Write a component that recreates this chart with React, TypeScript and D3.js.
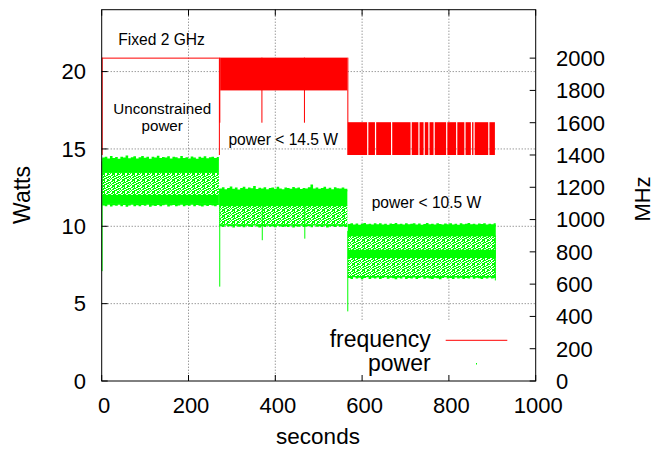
import React from "react";
import * as d3 from "d3";

// Axis ticks
const secondTicks = [0, 200, 400, 600, 800, 1000];
const wattTicks = [0, 5, 10, 15, 20];
const mhzTicks = [0, 200, 400, 600, 800, 1000, 1200, 1400, 1600, 1800, 2000];

// Frequency envelope pieces: [startSec, endSec, lowMHz, highMHz]
const freqBands: [number, number, number, number][] = [
  [0, 1, 1400, 2000],
  [1, 270, 2000, 2000],
  [270, 271, 1400, 2000],
  [271, 273, 1600, 2000],
  [273, 566, 1800, 2000],
  [368, 370, 1600, 2000],
  [466, 468, 1600, 2000],
  [566, 567, 1400, 2000],
];
// Capped phase (power < 10.5 W): frequency toggles between these levels
const cappedFreq: [number, number, number, number] = [567, 906, 1400, 1600];
// Moments where the capped frequency held one level for a while
const cappedHolds = [613, 631, 668, 713, 731, 743, 754, 766, 795, 818, 837, 852, 858, 892];

// Power clusters: [startSec, endSec, lowW, highW]
const powerDense: [number, number, number, number][] = [
  [1, 270, 13.45, 14.3],
  [1, 270, 11.45, 12.0],
  [271, 566, 11.3, 12.3],
  [567, 908, 9.35, 10.05],
  [567, 908, 7.95, 8.45],
];
const powerSparse: [number, number, number, number][] = [
  [1, 270, 12.0, 13.45],
  [271, 566, 10.1, 11.3],
  [567, 908, 8.45, 9.35],
  [567, 908, 6.75, 7.95],
];
// Isolated readings: [sec, lowW, highW]
const powerDips: [number, number, number][] = [
  [1, 7.1, 14.2],
  [272, 6.1, 12.4],
  [370, 9.1, 11.3],
  [468, 9.2, 11.3],
  [567, 4.5, 9.7],
  [907, 6.5, 9.4],
];

// Highest and lowest power reading in each 6 s window, per phase
const SAMPLE_STEP = 6;
const peaksUnconstrained = [
  14.45, 14.5, 14.38, 14.55, 14.42, 14.48, 14.36, 14.5, 14.44, 14.58, 14.4, 14.47, 14.52, 14.39, 14.46,
  14.55, 14.43, 14.5, 14.37, 14.49, 14.45, 14.56, 14.41, 14.48, 14.44, 14.52, 14.38, 14.5, 14.46, 14.4,
  14.54, 14.42, 14.47, 14.39, 14.51, 14.45, 14.36, 14.49, 14.43, 14.53, 14.4, 14.46, 14.5, 14.42, 14.48,
];
const troughsUnconstrained = [
  11.35, 11.3, 11.4, 11.28, 11.36, 11.32, 11.4, 11.3, 11.38, 11.26, 11.34, 11.39, 11.3, 11.36, 11.29,
  11.37, 11.33, 11.4, 11.27, 11.35, 11.31, 11.38, 11.3, 11.36, 11.4, 11.28, 11.34, 11.37, 11.3, 11.35,
  11.39, 11.29, 11.36, 11.32, 11.4, 11.3, 11.37, 11.33, 11.28, 11.36, 11.31, 11.38, 11.34, 11.3, 11.37,
];
const peaksCap14 = [
  12.45, 12.52, 12.4, 12.48, 12.58, 12.43, 12.5, 12.38, 12.47, 12.55, 12.42, 12.5, 12.46, 12.6, 12.41,
  12.49, 12.44, 12.53, 12.39, 12.47, 12.5, 12.43, 12.56, 12.45, 12.4, 12.51, 12.47, 12.42, 12.54, 12.46,
  12.5, 12.41, 12.48, 12.44, 12.52, 12.7, 12.45, 12.5, 12.42, 12.47, 12.55, 12.43, 12.49, 12.4, 12.52,
  12.46, 12.44, 12.5, 12.42,
];
const troughsCap14 = [
  10.0, 9.95, 10.05, 9.98, 10.02, 9.93, 10.04, 9.97, 10.0, 9.94, 10.03, 9.98, 9.95, 10.05, 9.99,
  9.93, 10.02, 9.96, 10.04, 9.97, 10.0, 9.94, 10.03, 9.98, 9.95, 10.01, 9.96, 10.04, 9.93, 10.0,
  9.97, 10.03, 9.95, 9.99, 10.02, 9.94, 10.05, 9.97, 10.0, 9.96, 10.03, 9.93, 9.99, 10.02, 9.95,
  10.04, 9.97, 10.0, 9.96,
];
const peaksCap10 = [
  10.15, 10.2, 10.12, 10.18, 10.1, 10.16, 10.21, 10.13, 10.17, 10.11, 10.19, 10.14, 10.2, 10.12, 10.16,
  10.1, 10.18, 10.15, 10.22, 10.13, 10.17, 10.11, 10.19, 10.14, 10.16, 10.2, 10.12, 10.18, 10.1, 10.15,
  10.21, 10.13, 10.17, 10.12, 10.19, 10.15, 10.11, 10.18, 10.14, 10.2, 10.12, 10.16, 10.1, 10.19, 10.14,
  10.17, 10.21, 10.13, 10.16, 10.11, 10.18, 10.15, 10.2, 10.12, 10.17, 10.14, 10.19,
];
const troughsCap10 = [
  6.65, 6.6, 6.7, 6.62, 6.68, 6.58, 6.66, 6.71, 6.6, 6.67, 6.63, 6.69, 6.59, 6.65, 6.7,
  6.61, 6.67, 6.64, 6.58, 6.68, 6.62, 6.7, 6.6, 6.66, 6.63, 6.69, 6.59, 6.65, 6.71, 6.61,
  6.67, 6.63, 6.6, 6.68, 6.64, 6.58, 6.66, 6.7, 6.62, 6.65, 6.6, 6.69, 6.63, 6.67, 6.59,
  6.66, 6.62, 6.7, 6.61, 6.68, 6.64, 6.6, 6.67, 6.63, 6.69, 6.62, 6.65,
];
// [startSec, endSec, edgeW, readings, isPeak]
const powerEdges: [number, number, number, number[], boolean][] = [
  [1, 270, 14.3, peaksUnconstrained, true],
  [1, 270, 11.45, troughsUnconstrained, false],
  [271, 566, 12.3, peaksCap14, true],
  [271, 566, 10.1, troughsCap14, false],
  [567, 908, 10.05, peaksCap10, true],
  [567, 908, 6.75, troughsCap10, false],
];

// Annotations: [text, sec, watts-baseline]
const notes: [string, number, number][] = [
  ["Fixed 2 GHz", 38, 21.72],
  ["power < 14.5 W", 292, 15.26],
  ["power < 10.5 W", 622, 11.16],
];

const W = 656;
const H = 450;
const L = 101.7;
const R = 535.7;
const T = 9.7;
const B = 381;

const FONT = "'Liberation Sans', Arial, Helvetica, sans-serif";
const RED = "#ff0000";
const GREEN = "#00ff00";

// light specks inside the sparse part of the power cloud: [row, startCol, length]
const specks: [number, number, number][] = [
  [0, 0, 2], [0, 5, 2],
  [1, 0, 1], [1, 3, 1], [1, 5, 1], [1, 8, 2],
  [2, 1, 2], [2, 6, 2],
  [3, 1, 1], [3, 4, 2], [3, 9, 1],
  [4, 0, 1], [4, 2, 2], [4, 7, 2],
  [5, 1, 1], [5, 5, 2], [5, 9, 1],
];

export default function App() {
  const x = d3.scaleLinear().domain([0, 1000]).range([L, R]);
  const yW = d3.scaleLinear().domain([0, 24]).range([B, T]);
  const yF = d3.scaleLinear().domain([0, 2300]).range([B, T]);

  // split the capped band into pieces around the hold moments
  const cappedPieces: [number, number, number, number][] = [];
  let s = cappedFreq[0];
  for (const h of cappedHolds) {
    cappedPieces.push([s, h - 1.4, cappedFreq[2], cappedFreq[3]]);
    s = h + 1.4;
  }
  cappedPieces.push([s, cappedFreq[1], cappedFreq[2], cappedFreq[3]]);
  const allFreq = [...freqBands, ...cappedPieces];

  const bandRect = (
    b: [number, number, number, number],
    y: d3.ScaleLinear<number, number>,
    fill: string,
    key: string
  ) => {
    const x0 = x(b[0]);
    const x1 = x(b[1]);
    const y0 = y(b[3]);
    const y1 = y(b[2]);
    return (
      <rect
        key={key}
        x={x0}
        y={y0 - 0.5}
        width={Math.max(1, x1 - x0)}
        height={Math.max(1, y1 - y0 + 0.5)}
        fill={fill}
      />
    );
  };

  const edgePaths = powerEdges.map(([t0, t1, edge, vals, isPeak]) => {
    const pts = vals.map((v, i) => ({ t: Math.min(t1, t0 + i * SAMPLE_STEP), v }));
    pts.push({ t: t1, v: vals[vals.length - 1] });
    const area = d3
      .area<{ t: number; v: number }>()
      .x((d) => x(d.t))
      .y0(() => yW(edge) + (isPeak ? 0.5 : -0.5))
      .y1((d) => yW(d.v))
      .curve(d3.curveStepAfter);
    return area(pts) || "";
  });

  const gridStyle = { stroke: "#6f6f6f", strokeWidth: 1, strokeDasharray: "1,2" };

  return (
    <svg
      width={W}
      height={H}
      viewBox={`0 0 ${W} ${H}`}
      style={{ position: "absolute", left: 0, top: 0, background: "#fff" }}
      fontFamily={FONT}
    >
      <defs>
        <pattern id="stipple" patternUnits="userSpaceOnUse" width="10" height="6">
          <rect width="10" height="6" fill={GREEN} />
          {specks.map(([ry, cx, len], i) => (
            <rect key={i} x={cx} y={ry} width={len} height={1} fill="#ffffff" />
          ))}
        </pattern>
      </defs>
      <rect x={0} y={0} width={W} height={H} fill="#fff" />

      {/* grid */}
      {wattTicks.slice(1).map((v) => (
        <line key={"gy" + v} x1={L} x2={R} y1={yW(v)} y2={yW(v)} {...gridStyle} />
      ))}
      {secondTicks.slice(1, -1).map((v) => (
        <line key={"gx" + v} x1={x(v)} x2={x(v)} y1={T} y2={B} {...gridStyle} />
      ))}

      {/* key area */}
      <rect x={325} y={320} width={R - 325} height={B - 320} fill="#fff" />

      {/* frequency */}
      {allFreq.map((b, i) => bandRect(b, yF, RED, "f" + i))}

      {/* power */}
      {powerSparse.map((b, i) => bandRect(b, yW, "url(#stipple)", "ps" + i))}
      {powerDense.map((b, i) => bandRect(b, yW, GREEN, "pd" + i))}
      {edgePaths.map((d, i) => (
        <path key={"pe" + i} d={d} fill={GREEN} stroke="none" />
      ))}
      {powerDips.map(([t, lo, hi], i) => (
        <line key={"pdip" + i} x1={x(t)} x2={x(t)} y1={yW(lo)} y2={yW(hi)} stroke={GREEN} strokeWidth={1} />
      ))}

      {/* border */}
      <rect x={L} y={T} width={R - L} height={B - T} fill="none" stroke="#000" strokeWidth={1} />

      {/* ticks */}
      {secondTicks.map((v) => (
        <g key={"tx" + v}>
          <line x1={x(v)} x2={x(v)} y1={B} y2={B - 6} stroke="#000" />
          <line x1={x(v)} x2={x(v)} y1={T} y2={T + 6} stroke="#000" />
          <text x={x(v) + 2.5} y={412.7} fontSize={22} textAnchor="middle" fill="#000">
            {v}
          </text>
        </g>
      ))}
      {wattTicks.map((v) => (
        <g key={"ty" + v}>
          <line x1={L} x2={L + 6} y1={yW(v)} y2={yW(v)} stroke="#000" />
          <text x={86} y={yW(v) + 7.8} fontSize={22} textAnchor="end" fill="#000">
            {v}
          </text>
        </g>
      ))}
      {mhzTicks.map((v) => (
        <g key={"ty2" + v}>
          <line x1={R} x2={R - 6} y1={yF(v)} y2={yF(v)} stroke="#000" />
          <text x={556} y={yF(v) + 7.8} fontSize={22} textAnchor="start" fill="#000">
            {v}
          </text>
        </g>
      ))}

      {/* axis titles */}
      <text x={318} y={444.3} fontSize={22.5} textAnchor="middle" fill="#000">
        seconds
      </text>
      <text transform="translate(30,195) rotate(-90)" fontSize={23} textAnchor="middle" fill="#000">
        Watts
      </text>
      <text transform="translate(650,199) rotate(-90)" fontSize={22} textAnchor="middle" fill="#000">
        MHz
      </text>

      {/* annotations */}
      {notes.map(([t, sec, w]) => (
        <text key={t} x={x(sec)} y={yW(w)} fontSize={15.6} fill="#000">
          {t}
        </text>
      ))}
      <text x={162.2} y={114} fontSize={15.2} textAnchor="middle" fill="#000">
        Unconstrained
      </text>
      <text x={162.2} y={131} fontSize={15.2} textAnchor="middle" fill="#000">
        power
      </text>

      {/* key */}
      <text x={430.7} y={346.7} fontSize={23} textAnchor="end" fill="#000">
        frequency
      </text>
      <line x1={445.7} x2={507.3} y1={340.3} y2={340.3} stroke={RED} strokeWidth={1} />
      <text x={430.7} y={370.7} fontSize={23} textAnchor="end" fill="#000">
        power
      </text>
      <rect x={476} y={363} width={1} height={1.5} fill={GREEN} />
    </svg>
  );
}
